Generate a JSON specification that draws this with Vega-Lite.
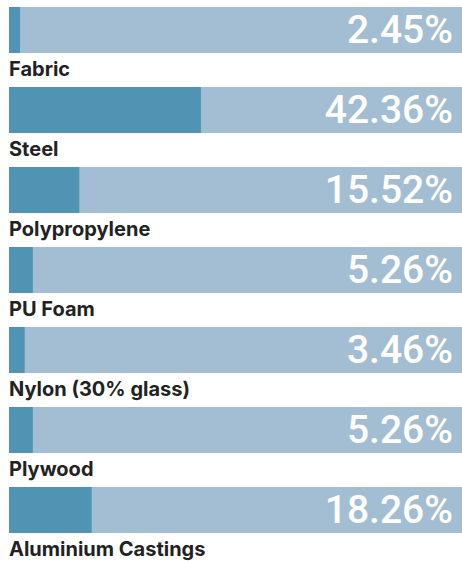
{
  "$schema": "https://vega.github.io/schema/vega-lite/v6.json",
  "autosize": {"type": "none"},
  "padding": {"left": 9, "top": 7, "right": 0, "bottom": 28},
  "width": 453,
  "height": 526,
  "background": "white",
  "config": {"view": {"stroke": null}},
  "data": {"values": [
    {"material": "Fabric", "pct": 2.45, "label": "2.45%"},
    {"material": "Steel", "pct": 42.36, "label": "42.36%"},
    {"material": "Polypropylene", "pct": 15.52, "label": "15.52%"},
    {"material": "PU Foam", "pct": 5.26, "label": "5.26%"},
    {"material": "Nylon (30% glass)", "pct": 3.46, "label": "3.46%"},
    {"material": "Plywood", "pct": 5.26, "label": "5.26%"},
    {"material": "Aluminium Castings", "pct": 18.26, "label": "18.26%"}
  ]},
  "encoding": {
    "y": {"field": "material", "type": "nominal", "sort": null, "axis": null,
          "scale": {"paddingInner": 0.425, "paddingOuter": 0}}
  },
  "layer": [
    {
      "mark": {"type": "bar", "color": "#a3bed3"},
      "encoding": {"x": {"datum": 100, "type": "quantitative", "scale": {"domain": [0, 100]}, "axis": null}}
    },
    {
      "mark": {"type": "bar", "color": "#5193b3"},
      "encoding": {"x": {"field": "pct", "type": "quantitative", "scale": {"domain": [0, 100]}, "axis": null}}
    },
    {
      "mark": {"type": "text", "align": "right", "baseline": "alphabetic", "dx": -9, "dy": 13, "font": "Roboto", "fontSize": 39, "fontWeight": 500, "color": "white"},
      "encoding": {"x": {"datum": 100, "type": "quantitative"}, "text": {"field": "label"}}
    },
    {
      "mark": {"type": "text", "align": "left", "baseline": "alphabetic", "dy": 46, "font": "Inter", "fontSize": 20, "fontWeight": 700, "color": "#222222"},
      "encoding": {"x": {"datum": 0, "type": "quantitative"}, "text": {"field": "material"}}
    }
  ]
}
